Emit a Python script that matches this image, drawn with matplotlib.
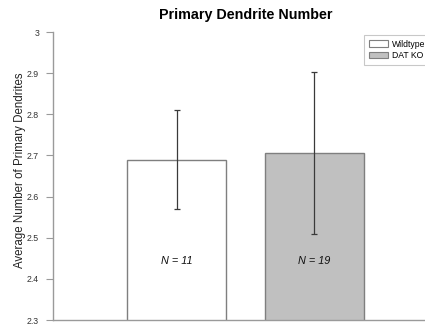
import matplotlib
matplotlib.use("Agg")
import matplotlib.pyplot as plt
from matplotlib.patches import Patch

plt.rcParams["font.family"] = ["Liberation Sans", "DejaVu Sans"]

groups = ["Wildtype", "DAT KO"]
means = [2.690, 2.706]
sems = [0.120, 0.196]
counts = [11, 19]
colors = ["#ffffff", "#c0c0c0"]
yticks = [2.3, 2.4, 2.5, 2.6, 2.7, 2.8, 2.9, 3]
ytick_labels = ["2.3", "2.4", "2.5", "2.6", "2.7", "2.8", "2.9", "3"]

W, H = 425, 326
fig = plt.figure(figsize=(W / 100, H / 100), dpi=100)
# axes runs past the right edge of the canvas, like the cropped original figure
ax = fig.add_axes([53 / W, 6 / H, (438 - 53) / W, (320 - 32) / H])

xs = [0, 1]
ax.bar(xs, means, width=0.72, color=colors, edgecolor="#7f7f7f", linewidth=1.0,
       bottom=0, zorder=2)
ax.errorbar(xs, means, yerr=sems, fmt="none", ecolor="#3a3a3a", elinewidth=0.9,
            capsize=2.5, capthick=0.9, zorder=3)

for x, n in zip(xs, counts):
    ax.text(x, 2.443, f"N = {n}", ha="center", va="center", fontsize=7.8,
            style="italic", color="#111111")

ax.set_xlim(-0.9, 1.9)
ax.set_ylim(2.3, 3.0)
ax.set_yticks(yticks)
ax.set_yticklabels(ytick_labels, fontsize=6.3, color="#333333")
ax.set_xticks([])
ax.tick_params(axis="y", direction="out", length=5, width=0.8, color="#9a9a9a", pad=5)
for s in ["top", "right"]:
    ax.spines[s].set_visible(False)
for s in ["left", "bottom"]:
    ax.spines[s].set_color("#9a9a9a")
    ax.spines[s].set_linewidth(1.0)

fig.text(20 / W, 1 - 170 / H, "Average Number of Primary Dendrites", rotation=90,
         ha="center", va="center", fontsize=8.3, color="#222222")
fig.text(246 / W, 1 - 15 / H, "Primary Dendrite Number", ha="center", va="center",
         fontsize=10.3, fontweight="bold")

handles = [Patch(facecolor=c, edgecolor="#7f7f7f", linewidth=0.8) for c in colors]
leg = fig.legend(handles, groups, loc="upper left", bbox_to_anchor=(360 / W, 1 - 31 / H),
                 fontsize=6.2, frameon=True, fancybox=False, handlelength=2.2,
                 handleheight=0.8, borderpad=0.5, labelspacing=0.3, handletextpad=0.5)
leg.get_frame().set_edgecolor("#bbbbbb")
leg.get_frame().set_linewidth(0.8)

fig.savefig("out.png", dpi=100)
